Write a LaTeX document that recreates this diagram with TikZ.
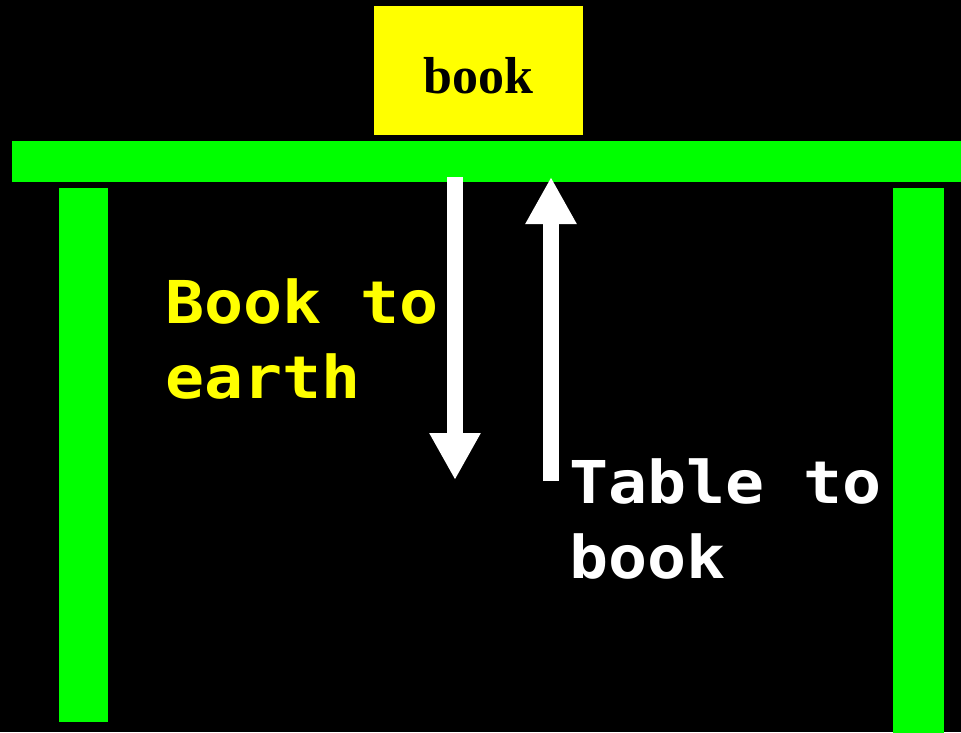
\documentclass[tikz,border=0pt]{standalone}
\usepackage{fontspec}
\usetikzlibrary{arrows.meta}
\newfontfamily\labelmono[FakeStretch=1.1]{DejaVu Sans Mono}
\newfontfamily\bookserif{Liberation Serif}
\definecolor{tablegreen}{RGB}{0,255,0}
\definecolor{bookyellow}{RGB}{255,255,0}
\begin{document}
\begin{tikzpicture}[x=1pt,y=-1pt,
  part/.style={rectangle,fill=tablegreen,inner sep=0pt,outer sep=0pt},
  forcearrow/.style={draw=white,line width=16pt,-{Triangle[width=48pt,length=47pt]}},
  forcelabel/.style={anchor=base west,inner sep=0pt,align=left,
    font=\labelmono\bfseries\fontsize{59}{75}\selectfont}]
\fill[black] (0,0) rectangle (961,732);
\useasboundingbox (0,0) rectangle (961,732);
\node[part,minimum width=950pt,minimum height=40.5pt] (tabletop) at (487,161.25) {};
\node[part,minimum width=49pt,minimum height=534.5pt] (leftleg) at (83.5,454.75) {};
\node[part,minimum width=51.5pt,minimum height=545.5pt] (rightleg) at (918.25,460.25) {};
\node[rectangle,fill=bookyellow,inner sep=0pt,minimum width=209pt,minimum height=129pt,
  text height=45pt,text depth=0pt,font=\bookserif\bfseries\fontsize{52}{60}\selectfont] (book) at (478.5,70.5) {book};
\coordinate (downstart) at (455,177);
\coordinate (downend) at (455,480);
\coordinate (upstart) at (551,481);
\coordinate (upend) at (551,177);
\draw[forcearrow] (downstart) -- (downend);
\draw[forcearrow] (upstart) -- (upend);
\node[forcelabel,text=bookyellow] (booklabel) at (165,398) {Book to\\earth};
\node[forcelabel,text=white] (tablelabel) at (569,578) {Table to\\book};
\end{tikzpicture}
\end{document}
